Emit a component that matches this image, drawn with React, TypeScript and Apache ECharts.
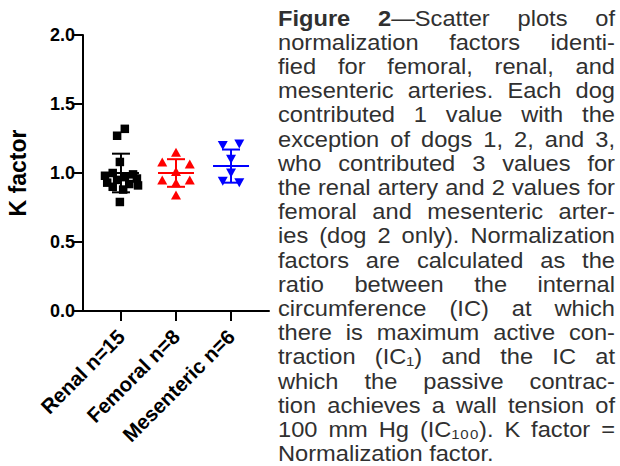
import React, { useEffect, useRef } from "react";
import * as echarts from "echarts";

// ---------- data ----------
const categories = ["Renal n=15", "Femoral n=8", "Mesenteric n=6"];
const renalValues = [1.32, 1.27, 1.08, 1.0, 0.99, 0.98, 0.97, 0.96, 0.95, 0.93, 0.92, 0.91, 0.9, 0.88, 0.79];
const femoralValues = [1.15, 1.08, 1.065, 1.01, 0.95, 0.95, 0.93, 0.84];
const mesentericValues = [1.2, 1.21, 1.1, 1.0, 0.94, 0.93];
const groupMeans = [1.0, 1.0, 1.05];
const groupSDs = [0.14, 0.1, 0.12];
const yMin = 0;
const yMax = 2;
const yInterval = 0.5;

// horizontal scatter spread (beeswarm jitter), in category units
const renalJitter = [0.07, -0.07, -0.02, -0.15, 0.22, -0.29, 0.07, 0.29, -0.07, -0.25, 0.15, 0.31, -0.15, 0.04, -0.02];
const femoralJitter = [0, -0.25, 0.25, 0, -0.25, 0.25, 0, 0];
const mesentericJitter = [-0.15, 0.15, 0, 0, -0.15, 0.15];

const groupColors = ["#000000", "#ff0000", "#0000ff"];

const captionLines = [
  "*Figure* *2*—Scatter plots of",
  "normalization factors identi-",
  "fied for femoral, renal, and",
  "mesenteric arteries. Each dog",
  "contributed 1 value with the",
  "exception of dogs 1, 2, and 3,",
  "who contributed 3 values for",
  "the renal artery and 2 values for",
  "femoral and mesenteric arter-",
  "ies (dog 2 only). Normalization",
  "factors are calculated as the",
  "ratio between the internal",
  "circumference (IC) at which",
  "there is maximum active con-",
  "traction (IC₁) and the IC at",
  "which the passive contrac-",
  "tion achieves a wall tension of",
  "100 mm Hg (IC₁₀₀). K factor =",
  "Normalization factor.",
];

// ---------- caption layout ----------
const CAP_FAMILY = "'Liberation Sans', Arial, sans-serif";
const CAP_LEFT = 278;
const CAP_RIGHT = 615;
const CAP_BASE0 = 26;
const CAP_LINE_H = 24.2;
const CAP_COLOR = "#303030";
const CAP_FS = 21.5;
const CAP_MAX_STRETCH = 1.1;

type Seg = { t: string; b: boolean };

function parseWord(w: string): Seg[] {
  const segs: Seg[] = [];
  let bold = false;
  let cur = "";
  for (const ch of w) {
    if (ch === "*") {
      if (cur) segs.push({ t: cur, b: bold });
      cur = "";
      bold = !bold;
    } else cur += ch;
  }
  if (cur) segs.push({ t: cur, b: bold });
  return segs;
}

function buildCaption(): any[] {
  const canvas = document.createElement("canvas");
  const ctx = canvas.getContext("2d")!;
  const fs = CAP_FS;
  const measureRaw = (t: string, b: boolean) => {
    ctx.font = `${b ? 700 : 400} ${fs}px ${CAP_FAMILY}`;
    return ctx.measureText(t).width;
  };
  const lines = captionLines.map((l) => l.split(" ").map(parseWord));
  const width = CAP_RIGHT - CAP_LEFT;
  let maxNatural = 0;
  lines.forEach((words, li) => {
    if (li === lines.length - 1) return;
    let w = 0;
    words.forEach((segs) => segs.forEach((s) => (w += measureRaw(s.t, s.b))));
    w += (words.length - 1) * measureRaw(" ", false) * 0.8;
    maxNatural = Math.max(maxNatural, w);
  });
  // horizontal stretch so glyph widths follow the column like the original type
  const sx0 = Math.min(CAP_MAX_STRETCH, width / maxNatural);
  const measure = (t: string, b: boolean) => measureRaw(t, b) * sx0;
  const els: any[] = [];
  lines.forEach((words, li) => {
    const wordWidths = words.map((segs) => segs.reduce((a, s) => a + measure(s.t, s.b), 0));
    const total = wordWidths.reduce((a, b) => a + b, 0);
    const last = li === lines.length - 1;
    const gap = last || words.length < 2 ? measure(" ", false) : (width - total) / (words.length - 1);
    const y = CAP_BASE0 + CAP_LINE_H * li - 0.35 * fs;
    let x = CAP_LEFT;
    words.forEach((segs, wi) => {
      let sx = x;
      segs.forEach((s) => {
        els.push({
          type: "text",
          silent: true,
          x: sx,
          y,
          scaleX: sx0,
          style: {
            text: s.t,
            x: 0,
            y: 0,
            fill: CAP_COLOR,
            fontSize: fs,
            fontFamily: CAP_FAMILY,
            fontWeight: s.b ? 700 : 400,
            align: "left",
            verticalAlign: "middle",
          },
        });
        sx += measure(s.t, s.b);
      });
      x += wordWidths[wi] + gap;
    });
  });
  return els;
}

// ---------- chart ----------
const AXIS_FONT = "'Liberation Sans', Arial, Helvetica, sans-serif";

export default function App() {
  const ref = useRef<HTMLDivElement>(null);
  useEffect(() => {
    if (!ref.current) return;
    const chart = echarts.init(ref.current, null, { renderer: "svg" });

    const groups = [
      { values: renalValues, jitter: renalJitter, symbol: "rect", size: 8.5, rotate: 0 },
      { values: femoralValues, jitter: femoralJitter, symbol: "triangle", size: [10, 9], rotate: 0 },
      { values: mesentericValues, jitter: mesentericJitter, symbol: "triangle", size: [10, 9], rotate: 180 },
    ];

    const scatterSeries = groups.map((g, gi) => ({
      type: "scatter",
      name: categories[gi],
      symbol: g.symbol,
      symbolSize: g.size,
      symbolRotate: g.rotate,
      itemStyle: { color: groupColors[gi], opacity: 1 },
      data: g.values.map((v, i) => [gi + 1 + g.jitter[i], v]),
      z: 2,
    }));

    const errorSeries = {
      type: "custom",
      z: 3,
      data: groupMeans.map((m, i) => [i + 1, m, groupSDs[i], i]),
      renderItem: (params: any, api: any) => {
        const x = api.value(0);
        const m = api.value(1);
        const s = api.value(2);
        const color = groupColors[api.value(3)];
        const c = api.coord([x, m]);
        const top = api.coord([x, m + s]);
        const bot = api.coord([x, m - s]);
        const st = { stroke: color, lineWidth: 2 };
        return {
          type: "group",
          children: [
            { type: "line", shape: { x1: c[0] - 18, y1: c[1], x2: c[0] + 18, y2: c[1] }, style: st },
            { type: "line", shape: { x1: c[0], y1: top[1], x2: c[0], y2: bot[1] }, style: st },
            { type: "line", shape: { x1: c[0] - 9, y1: top[1], x2: c[0] + 9, y2: top[1] }, style: st },
            { type: "line", shape: { x1: c[0] - 9, y1: bot[1], x2: c[0] + 9, y2: bot[1] }, style: st },
          ],
        };
      },
    };

    chart.setOption({
      animation: false,
      backgroundColor: "#ffffff",
      grid: { left: 83, right: 351, top: 35, bottom: 155, containLabel: false },
      xAxis: {
        type: "value",
        min: 0.31,
        max: 3.69,
        axisLine: { show: true, onZero: false, lineStyle: { color: "#000", width: 2 } },
        axisTick: { show: true, customValues: [1, 2, 3], length: 10, lineStyle: { color: "#000", width: 2 } },
        axisLabel: {
          show: true,
          customValues: [1, 2, 3],
          formatter: (v: number) => categories[Math.round(v) - 1] ?? "",
          rotate: 45,
          margin: 22,
          color: "#000",
          fontWeight: "bold",
          fontSize: 20.5,
          fontFamily: AXIS_FONT,
        },
        splitLine: { show: false },
      },
      yAxis: {
        type: "value",
        min: yMin,
        max: yMax,
        interval: yInterval,
        name: "K factor",
        nameLocation: "middle",
        nameGap: 54,
        nameTextStyle: { color: "#000", fontWeight: "bold", fontSize: 23, fontFamily: AXIS_FONT },
        axisLine: { show: true, onZero: false, lineStyle: { color: "#000", width: 2 } },
        axisTick: { show: true, length: 10, lineStyle: { color: "#000", width: 2 } },
        axisLabel: {
          formatter: (v: number) => v.toFixed(1),
          margin: 8,
          color: "#000",
          fontWeight: "bold",
          fontSize: 18,
          fontFamily: AXIS_FONT,
        },
        splitLine: { show: false },
      },
      series: [...scatterSeries, errorSeries],
      graphic: buildCaption(),
    });

    return () => chart.dispose();
  }, []);

  return (
    <div
      ref={ref}
      style={{ position: "fixed", left: 0, top: 0, width: 620, height: 466, background: "#fff" }}
    />
  );
}
